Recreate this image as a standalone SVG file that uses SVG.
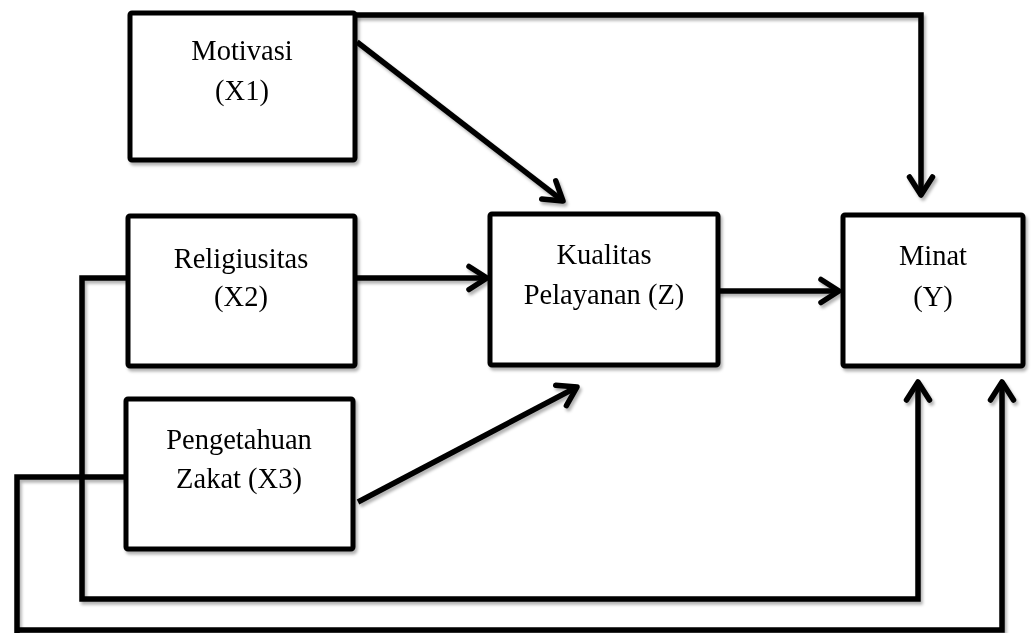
<svg xmlns="http://www.w3.org/2000/svg" width="1032" height="633" viewBox="0 0 1032 633">
<style>
.box{fill:#fff;stroke:#000;stroke-width:5;stroke-linejoin:round}
.lbl{font-family:"Liberation Serif","Times New Roman",serif;font-size:28.5px;fill:#000;text-anchor:middle}
.con{fill:none;stroke:#000;stroke-width:5.5;stroke-linejoin:miter}
.shadow{filter:url(#sh)}
</style>
<defs>
<filter id="sh" x="-10%" y="-10%" width="120%" height="120%">
<feDropShadow dx="2" dy="3" stdDeviation="1.5" flood-color="#000" flood-opacity="0.3"/>
</filter>
<marker id="arr" markerUnits="userSpaceOnUse" markerWidth="40" markerHeight="40" viewBox="-25 -20 40 40" refX="0" refY="0" orient="auto" overflow="visible">
<path d="M-18,-11.5 L0,0 L-18,11.5" fill="none" stroke="#000" stroke-width="5.5" stroke-linecap="round" stroke-linejoin="round"/>
</marker>
</defs>
<rect width="1032" height="633" fill="#fff"/>
<g id="connectors" class="shadow">
<path class="con" d="M355,15 L921,15 L921,195" marker-end="url(#arr)"/>
<path class="con" d="M357,42 L563,201" marker-end="url(#arr)"/>
<path class="con" d="M355,278 L487,278" marker-end="url(#arr)"/>
<path class="con" d="M358,502 L577,387" marker-end="url(#arr)"/>
<path class="con" d="M718,291 L839,291" marker-end="url(#arr)"/>
<path class="con" d="M128,278 L82,278 L82,599 L918,599 L918,382" marker-end="url(#arr)"/>
<path class="con" d="M127,477 L17,477 L17,636 M17,630 L1002,630 L1002,382" marker-end="url(#arr)"/>
</g>
<g id="motivasi" class="shadow">
<rect class="box" x="130" y="13" width="225" height="147" rx="2"/>
<text class="lbl" x="242" y="60">Motivasi</text>
<text class="lbl" x="242" y="100">(X1)</text>
</g>
<g id="religiusitas" class="shadow">
<rect class="box" x="128" y="216" width="227" height="150" rx="2"/>
<text class="lbl" x="241" y="268">Religiusitas</text>
<text class="lbl" x="241" y="306">(X2)</text>
</g>
<g id="pengetahuan" class="shadow">
<rect class="box" x="126" y="399" width="227" height="150" rx="2"/>
<text class="lbl" x="239" y="449">Pengetahuan</text>
<text class="lbl" x="239" y="488">Zakat (X3)</text>
</g>
<g id="kualitas" class="shadow">
<rect class="box" x="490" y="214" width="228" height="151" rx="2"/>
<text class="lbl" x="604" y="264">Kualitas</text>
<text class="lbl" x="604" y="304">Pelayanan (Z)</text>
</g>
<g id="minat" class="shadow">
<rect class="box" x="843" y="215" width="180" height="151" rx="2"/>
<text class="lbl" x="933" y="265">Minat</text>
<text class="lbl" x="933" y="306">(Y)</text>
</g>
</svg>
